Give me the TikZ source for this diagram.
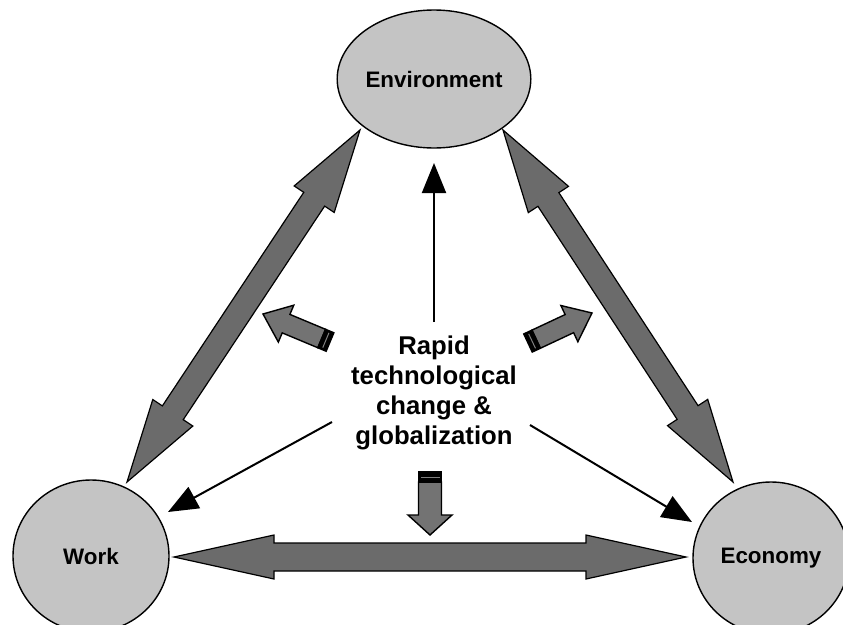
\documentclass[tikz,border=0pt]{standalone}
\usepackage{fontspec}
\setmainfont{Liberation Sans}
\usetikzlibrary{shapes.geometric,calc,arrows.meta}

\definecolor{circgray}{HTML}{C4C4C4}
\definecolor{fatgray}{HTML}{6B6B6B}
\definecolor{blockgray}{HTML}{737373}

\tikzset{
  topic/.style={ellipse, draw=black, line width=1.4pt, fill=circgray,
    font=\bfseries\fontsize{22.4}{26}\selectfont, inner sep=0pt},
  fatarrow/.style={draw=black, line width=1.2pt, fill=fatgray, line join=miter},
  blockarrow/.style={draw=black, line width=1.4pt, fill=blockgray, line join=miter},
  thinarrow/.style={line width=2pt, -{Triangle[length=30pt,width=24pt]}},
  centertext/.style={align=center, font=\bfseries\fontsize{25.7}{30}\selectfont}
}

% double-headed broad arrow between two tips:
% #3 head length, #4 head half-width, #5 shaft half-width
\newcommand\fatdouble[5]{%
  \coordinate (fa) at ($(#1)!#3!(#2)$);
  \coordinate (fb) at ($(#2)!#3!(#1)$);
  \draw[fatarrow] (#1) -- ($(fa)!#4!90:(#2)$) -- ($(fa)!#5!90:(#2)$)
    -- ($(fb)!#5!-90:(#1)$) -- ($(fb)!#4!-90:(#1)$) -- (#2)
    -- ($(fb)!#4!90:(#1)$) -- ($(fb)!#5!90:(#1)$)
    -- ($(fa)!#5!-90:(#2)$) -- ($(fa)!#4!-90:(#2)$) -- cycle;}

% single block arrow from tail #1 to tip #2 with a dark end band:
% #3 head length, #4 head half-width, #5 shaft half-width, #6 band length
\newcommand\blockarrow[6]{%
  \coordinate (ba) at ($(#2)!#3!(#1)$);
  \coordinate (bb) at ($(#1)!#6!(#2)$);
  \coordinate (bm) at ($(#1)!.5!(bb)$);
  \draw[blockarrow] (#2) -- ($(ba)!#4!90:(#1)$) -- ($(ba)!#5!90:(#1)$)
    -- ($(bb)!#5!-90:(#2)$) -- ($(bb)!#5!90:(#2)$)
    -- ($(ba)!#5!-90:(#1)$) -- ($(ba)!#4!-90:(#1)$) -- cycle;
  \filldraw[black, line width=1.4pt, line join=miter]
    ($(bb)!#5!90:(#2)$) -- ($(bb)!#5!-90:(#2)$)
    -- ($(#1)!#5!-90:(#2)$) -- ($(#1)!#5!90:(#2)$) -- cycle;
  \draw[gray, line width=1pt, shorten <=2pt, shorten >=2pt]
    ($(bm)!#5!90:(#2)$) -- ($(bm)!#5!-90:(#2)$);}

\begin{document}
\begin{tikzpicture}[x=1pt, y=-1pt]
  \useasboundingbox (0,0) rectangle (843,624);

  % the three topics
  \node[topic, minimum width=157pt, minimum height=138pt] (env) at (434,79) {Environment};
  \node[topic, minimum width=156pt, minimum height=152pt] (work) at (91,556) {Work};
  \node[topic, minimum width=156pt, minimum height=152pt] (econ) at (771,558) {Economy};

  % tips of the broad two-way arrows
  \coordinate (we) at (127,482);
  \coordinate (ew) at (360,130);
  \coordinate (ee) at (503,130);
  \coordinate (ec) at (733,482);
  \coordinate (wc) at (174,557);
  \coordinate (cw) at (686,557);

  \fatdouble{we}{ew}{83pt}{24pt}{12.5pt}
  \fatdouble{ee}{ec}{83pt}{24pt}{12.5pt}
  \fatdouble{wc}{cw}{100pt}{22pt}{14pt}

  % driving force in the middle
  \node[centertext] (drive) at (434,393) {Rapid\\technological\\change \&\\globalization};

  \coordinate (dtop) at (434,322);
  \coordinate (dleft) at (332,422);
  \coordinate (dright) at (530,425);
  \coordinate (tenv) at (434,163);
  \coordinate (twork) at (168,512);
  \coordinate (tecon) at (692,522);

  \draw[thinarrow] (dtop) -- (tenv);
  \draw[thinarrow] (dleft) -- (twork);
  \draw[thinarrow] (dright) -- (tecon);

  % short block arrows pushing outward
  \coordinate (bl0) at (330,342);
  \coordinate (bl1) at (263,314);
  \coordinate (br0) at (528,343);
  \coordinate (br1) at (592,313);
  \coordinate (bd0) at (430,472);
  \coordinate (bd1) at (430,535);

  \blockarrow{bl0}{bl1}{25pt}{20pt}{10pt}{9pt}
  \blockarrow{br0}{br1}{25pt}{20pt}{10pt}{9pt}
  \blockarrow{bd0}{bd1}{20pt}{22pt}{11.5pt}{10pt}
\end{tikzpicture}
\end{document}
